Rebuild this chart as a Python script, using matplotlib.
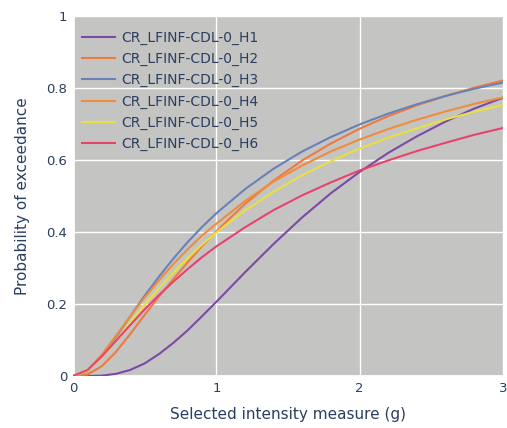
import numpy as np
import matplotlib
matplotlib.use('Agg')
import matplotlib.pyplot as plt

# intensity measure (g)
im = [0.0, 0.1, 0.2, 0.3, 0.4, 0.5, 0.6, 0.7, 0.8, 0.9, 1.0,
      1.2, 1.4, 1.6, 1.8, 2.0, 2.2, 2.4, 2.6, 2.8, 3.0]

h1 = [0.0, 0.0, 0.001, 0.006, 0.017, 0.035, 0.061, 0.092, 0.127, 0.166, 0.206,
      0.288, 0.367, 0.441, 0.508, 0.567, 0.620, 0.666, 0.707, 0.743, 0.773]
h2 = [0.0, 0.004, 0.027, 0.067, 0.117, 0.170, 0.221, 0.269, 0.316, 0.361, 0.402,
      0.478, 0.543, 0.599, 0.646, 0.687, 0.722, 0.752, 0.778, 0.801, 0.821]
h3 = [0.0, 0.012, 0.054, 0.108, 0.166, 0.223, 0.276, 0.326, 0.372, 0.414, 0.452,
      0.519, 0.576, 0.624, 0.664, 0.699, 0.729, 0.755, 0.778, 0.798, 0.815]
h4 = [0.0, 0.016, 0.059, 0.112, 0.166, 0.218, 0.266, 0.311, 0.352, 0.390, 0.423,
      0.486, 0.540, 0.585, 0.624, 0.657, 0.686, 0.712, 0.735, 0.756, 0.774]
h5 = [0.0, 0.013, 0.051, 0.099, 0.149, 0.198, 0.244, 0.287, 0.327, 0.365, 0.399,
      0.460, 0.512, 0.558, 0.597, 0.632, 0.662, 0.688, 0.713, 0.734, 0.753]
h6 = [0.0, 0.016, 0.054, 0.098, 0.142, 0.185, 0.225, 0.262, 0.297, 0.330, 0.360,
      0.413, 0.461, 0.502, 0.538, 0.571, 0.599, 0.625, 0.648, 0.670, 0.689]

names = ['CR_LFINF-CDL-0_H1', 'CR_LFINF-CDL-0_H2', 'CR_LFINF-CDL-0_H3',
         'CR_LFINF-CDL-0_H4', 'CR_LFINF-CDL-0_H5', 'CR_LFINF-CDL-0_H6']
colors = ['#7b4aa6', '#ef7a3f', '#6a80b8', '#f08c3a', '#e8e040', '#e8436d']
series = [h1, h2, h3, h4, h5, h6]
yticks = [0, 0.2, 0.4, 0.6, 0.8, 1]
ylabels = ['0', '0.2', '0.4', '0.6', '0.8', '1']

txt = '#2a3f5f'
plt.rcParams['font.family'] = ['DejaVu Sans']

fig = plt.figure(figsize=(5.07, 4.28), dpi=100)
ax = fig.add_axes([0.144, 0.1215, 0.848, 0.841])
ax.set_facecolor('#c4c5c3')

for y, c, n in zip(series, colors, names):
    ax.plot(im, y, color=c, lw=1.5, label=n, zorder=3)

ax.set_xlim(0, 3)
ax.set_ylim(0, 1)
ax.set_xticks([0, 1, 2, 3])
ax.set_xticklabels(['0', '1', '2', '3'])
ax.set_yticks(yticks)
ax.set_yticklabels(ylabels)
ax.grid(True, color='white', lw=1)
ax.set_axisbelow(True)
ax.axvline(0, color='white', lw=2, zorder=2)
ax.axhline(0, color='white', lw=2, zorder=2)
for s in ax.spines.values():
    s.set_visible(False)
ax.tick_params(length=0, labelsize=9.5, labelcolor=txt, pad=4)

ax.set_xlabel('Selected intensity measure (g)', fontsize=11, color=txt, labelpad=9)
ax.set_ylabel('Probability of exceedance', fontsize=11, color=txt, labelpad=12)

leg = ax.legend(loc='upper left', bbox_to_anchor=(0.02, 0.958), frameon=False,
                fontsize=10, handlelength=2.4, handletextpad=0.45,
                labelspacing=0.5, borderpad=0, borderaxespad=0)
for t in leg.get_texts():
    t.set_color(txt)

fig.savefig('out.png', dpi=100)
